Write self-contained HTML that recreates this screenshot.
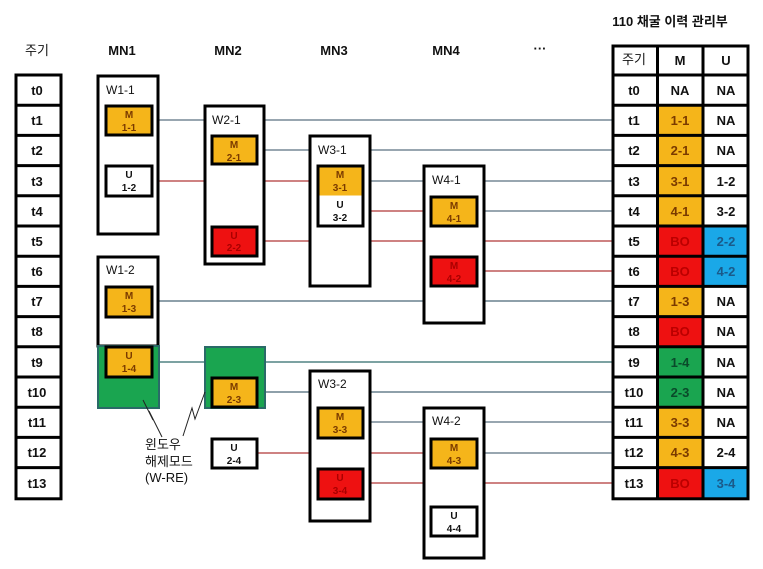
<!DOCTYPE html>
<html><head><meta charset="utf-8"><style>
html,body{margin:0;padding:0;background:#fff;}
svg{display:block;}
text{font-family:"Liberation Sans","Noto Sans CJK KR",sans-serif;}
.b{font-weight:bold;}
</style></head><body>
<svg width="763" height="569" viewBox="0 0 763 569" xmlns="http://www.w3.org/2000/svg">
<rect width="763" height="569" fill="#fff"/>
<g font-size="13" fill="#111" text-anchor="middle">
<text x="37" y="55">주기</text>
<text x="122" y="55" font-weight="bold">MN1</text>
<text x="228" y="55" font-weight="bold">MN2</text>
<text x="334" y="55" font-weight="bold">MN3</text>
<text x="446" y="55" font-weight="bold">MN4</text>
<text x="540" y="53" font-weight="bold">···</text>
<text x="670" y="26" font-weight="bold">110 채굴 이력 관리부</text>
</g>

<g stroke-width="1.2">
<line x1="152" y1="120" x2="612" y2="120" stroke="#5a7080"/>
<line x1="257" y1="150" x2="612" y2="150" stroke="#5a7080"/>
<line x1="363" y1="181" x2="612" y2="181" stroke="#5a7080"/>
<line x1="152" y1="181" x2="317" y2="181" stroke="#b03838"/>
<line x1="363" y1="211" x2="430" y2="211" stroke="#b03838"/>
<line x1="477" y1="211" x2="612" y2="211" stroke="#5a7080"/>
<line x1="257" y1="241" x2="612" y2="241" stroke="#b03838"/>
<line x1="477" y1="271" x2="612" y2="271" stroke="#b03838"/>
<line x1="152" y1="301" x2="612" y2="301" stroke="#4a6878"/>
<line x1="152" y1="362" x2="612" y2="362" stroke="#2e6a6a"/>
<line x1="257" y1="392" x2="612" y2="392" stroke="#4a6878"/>
<line x1="363" y1="422" x2="612" y2="422" stroke="#5a7080"/>
<line x1="257" y1="453" x2="430" y2="453" stroke="#b03838"/>
<line x1="477" y1="453" x2="612" y2="453" stroke="#5a7080"/>
<line x1="363" y1="483" x2="612" y2="483" stroke="#b03838"/>
</g>

<g stroke="#000" stroke-width="3" fill="#fff">
<rect x="16" y="75" width="45" height="423.8"/>
</g>
<g stroke="#000" stroke-width="3">
<line x1="16" y1="105.2" x2="61" y2="105.2"/><line x1="16" y1="135.4" x2="61" y2="135.4"/>
<line x1="16" y1="165.6" x2="61" y2="165.6"/><line x1="16" y1="195.8" x2="61" y2="195.8"/>
<line x1="16" y1="226" x2="61" y2="226"/><line x1="16" y1="256.2" x2="61" y2="256.2"/>
<line x1="16" y1="286.4" x2="61" y2="286.4"/><line x1="16" y1="316.6" x2="61" y2="316.6"/>
<line x1="16" y1="346.8" x2="61" y2="346.8"/><line x1="16" y1="377" x2="61" y2="377"/>
<line x1="16" y1="407.2" x2="61" y2="407.2"/><line x1="16" y1="437.4" x2="61" y2="437.4"/>
<line x1="16" y1="467.6" x2="61" y2="467.6"/>
</g>
<g font-size="13" fill="#111" text-anchor="middle" font-weight="bold">
<text x="37" y="95">t0</text><text x="37" y="125">t1</text><text x="37" y="155">t2</text>
<text x="37" y="186">t3</text><text x="37" y="216">t4</text><text x="37" y="246">t5</text>
<text x="37" y="276">t6</text><text x="37" y="306">t7</text><text x="37" y="336">t8</text>
<text x="37" y="367">t9</text><text x="37" y="397">t10</text><text x="37" y="427">t11</text>
<text x="37" y="457">t12</text><text x="37" y="488">t13</text>
</g>

<g stroke="#000" stroke-width="3" fill="#fff">
<rect x="98" y="76" width="60" height="158"/>
<rect x="98" y="257" width="60" height="89"/>
<rect x="205" y="106" width="59" height="158"/>
<rect x="310" y="136" width="60" height="150"/>
<rect x="310" y="371" width="60" height="150"/>
<rect x="424" y="166" width="60" height="157"/>
<rect x="424" y="408" width="60" height="150"/>
</g>
<rect x="98" y="346" width="61" height="62" fill="#1aa550" stroke="#2a6a68" stroke-width="2"/>
<rect x="205" y="347" width="60" height="61" fill="#1aa550" stroke="#2a6a68" stroke-width="2"/>

<g font-size="12" fill="#111">
<text x="106" y="94">W1-1</text>
<text x="106" y="274">W1-2</text>
<text x="212" y="124">W2-1</text>
<text x="318" y="154">W3-1</text>
<text x="318" y="388">W3-2</text>
<text x="432" y="184">W4-1</text>
<text x="432" y="425">W4-2</text>
</g>

<g stroke="#000" stroke-width="3">
<rect x="106" y="106" width="46" height="29" fill="#f5b51a"/>
<rect x="106" y="166" width="46" height="30" fill="#fff"/>
<rect x="106" y="287" width="46" height="30" fill="#f5b51a"/>
<rect x="106" y="347" width="46" height="30" fill="#f5b51a"/>
<rect x="212" y="136" width="45" height="28" fill="#f5b51a"/>
<rect x="212" y="227" width="45" height="29" fill="#ee1111"/>
<rect x="212" y="378" width="45" height="29" fill="#f5b51a"/>
<rect x="212" y="439" width="45" height="29" fill="#fff"/>
<rect x="318" y="166" width="45" height="60" fill="#fff"/>
<rect x="318" y="408" width="45" height="30" fill="#f5b51a"/>
<rect x="318" y="469" width="45" height="30" fill="#ee1111"/>
<rect x="431" y="197" width="46" height="29" fill="#f5b51a"/>
<rect x="431" y="257" width="46" height="29" fill="#ee1111"/>
<rect x="431" y="439" width="46" height="29" fill="#f5b51a"/>
<rect x="431" y="507" width="46" height="29" fill="#fff"/>
</g>
<rect x="319.5" y="167.5" width="42" height="28" fill="#f5b51a"/>
<g font-size="10" text-anchor="middle" font-weight="bold">
<text x="129" y="118" fill="#7a3a00">M</text><text x="129" y="131" fill="#7a3a00">1-1</text>
<text x="129" y="178" fill="#111">U</text><text x="129" y="191" fill="#111">1-2</text>
<text x="129" y="299" fill="#7a3a00">M</text><text x="129" y="312" fill="#7a3a00">1-3</text>
<text x="129" y="359" fill="#7a3a00">U</text><text x="129" y="372" fill="#7a3a00">1-4</text>
<text x="234" y="148" fill="#7a3a00">M</text><text x="234" y="161" fill="#7a3a00">2-1</text>
<text x="234" y="239" fill="#a00">U</text><text x="234" y="251" fill="#a00">2-2</text>
<text x="234" y="390" fill="#7a3a00">M</text><text x="234" y="403" fill="#7a3a00">2-3</text>
<text x="234" y="451" fill="#111">U</text><text x="234" y="464" fill="#111">2-4</text>
<text x="340" y="178" fill="#7a3a00">M</text><text x="340" y="191" fill="#7a3a00">3-1</text>
<text x="340" y="208" fill="#111">U</text><text x="340" y="221" fill="#111">3-2</text>
<text x="340" y="420" fill="#7a3a00">M</text><text x="340" y="433" fill="#7a3a00">3-3</text>
<text x="340" y="481" fill="#a00">U</text><text x="340" y="494" fill="#a00">3-4</text>
<text x="454" y="209" fill="#7a3a00">M</text><text x="454" y="222" fill="#7a3a00">4-1</text>
<text x="454" y="269" fill="#a00">M</text><text x="454" y="282" fill="#a00">4-2</text>
<text x="454" y="451" fill="#7a3a00">M</text><text x="454" y="464" fill="#7a3a00">4-3</text>
<text x="454" y="519" fill="#111">U</text><text x="454" y="532" fill="#111">4-4</text>
</g>

<g fill="none" stroke="#222" stroke-width="1">
<polyline points="143,400 153,420 149,411 162,437"/>
<polyline points="205,392 195,419 192,408 183,436"/>
</g>
<g font-size="13" fill="#111">
<text x="145" y="449">윈도우</text>
<text x="145" y="466">해제모드</text>
<text x="145" y="482">(W-RE)</text>
</g>

<g stroke="none">
<rect x="658" y="105" width="45" height="121" fill="#f5b51a"/>
<rect x="658" y="226" width="45" height="60" fill="#ee1111"/>
<rect x="703" y="226" width="45" height="60" fill="#1aa8e8"/>
<rect x="658" y="286" width="45" height="30" fill="#f5b51a"/>
<rect x="658" y="316" width="45" height="31" fill="#ee1111"/>
<rect x="658" y="347" width="45" height="60" fill="#1aa550"/>
<rect x="658" y="407" width="45" height="61" fill="#f5b51a"/>
<rect x="658" y="468" width="45" height="30" fill="#ee1111"/>
<rect x="703" y="468" width="45" height="30" fill="#1aa8e8"/>
</g>
<g stroke="#000" stroke-width="3" fill="none">
<rect x="613" y="46" width="135" height="452.8"/>
<line x1="657.5" y1="46" x2="657.5" y2="498.8"/>
<line x1="703" y1="46" x2="703" y2="498.8"/>
<line x1="613" y1="75" x2="748" y2="75"/>
<line x1="613" y1="105.2" x2="748" y2="105.2"/><line x1="613" y1="135.4" x2="748" y2="135.4"/>
<line x1="613" y1="165.6" x2="748" y2="165.6"/><line x1="613" y1="195.8" x2="748" y2="195.8"/>
<line x1="613" y1="226" x2="748" y2="226"/><line x1="613" y1="256.2" x2="748" y2="256.2"/>
<line x1="613" y1="286.4" x2="748" y2="286.4"/><line x1="613" y1="316.6" x2="748" y2="316.6"/>
<line x1="613" y1="346.8" x2="748" y2="346.8"/><line x1="613" y1="377" x2="748" y2="377"/>
<line x1="613" y1="407.2" x2="748" y2="407.2"/><line x1="613" y1="437.4" x2="748" y2="437.4"/>
<line x1="613" y1="467.6" x2="748" y2="467.6"/>
</g>
<g font-size="13" text-anchor="middle" fill="#111" font-weight="bold">
<text x="634" y="64" font-weight="normal">주기</text><text x="680" y="65">M</text><text x="726" y="65">U</text>
<text x="634" y="95">t0</text><text x="680" y="95">NA</text><text x="726" y="95">NA</text>
<text x="634" y="125">t1</text><text x="680" y="125" fill="#7a3a00">1-1</text><text x="726" y="125">NA</text>
<text x="634" y="155">t2</text><text x="680" y="155" fill="#7a3a00">2-1</text><text x="726" y="155">NA</text>
<text x="634" y="186">t3</text><text x="680" y="186" fill="#7a3a00">3-1</text><text x="726" y="186">1-2</text>
<text x="634" y="216">t4</text><text x="680" y="216" fill="#7a3a00">4-1</text><text x="726" y="216">3-2</text>
<text x="634" y="246">t5</text><text x="680" y="246" fill="#b00">BO</text><text x="726" y="246" fill="#1a5a8a">2-2</text>
<text x="634" y="276">t6</text><text x="680" y="276" fill="#b00">BO</text><text x="726" y="276" fill="#1a5a8a">4-2</text>
<text x="634" y="306">t7</text><text x="680" y="306" fill="#7a3a00">1-3</text><text x="726" y="306">NA</text>
<text x="634" y="336">t8</text><text x="680" y="336" fill="#b00">BO</text><text x="726" y="336">NA</text>
<text x="634" y="367">t9</text><text x="680" y="367" fill="#0a4a2a">1-4</text><text x="726" y="367">NA</text>
<text x="634" y="397">t10</text><text x="680" y="397" fill="#0a4a2a">2-3</text><text x="726" y="397">NA</text>
<text x="634" y="427">t11</text><text x="680" y="427" fill="#7a3a00">3-3</text><text x="726" y="427">NA</text>
<text x="634" y="457">t12</text><text x="680" y="457" fill="#7a3a00">4-3</text><text x="726" y="457">2-4</text>
<text x="634" y="488">t13</text><text x="680" y="488" fill="#b00">BO</text><text x="726" y="488" fill="#1a5a8a">3-4</text>
</g>
</svg>
</body></html>
